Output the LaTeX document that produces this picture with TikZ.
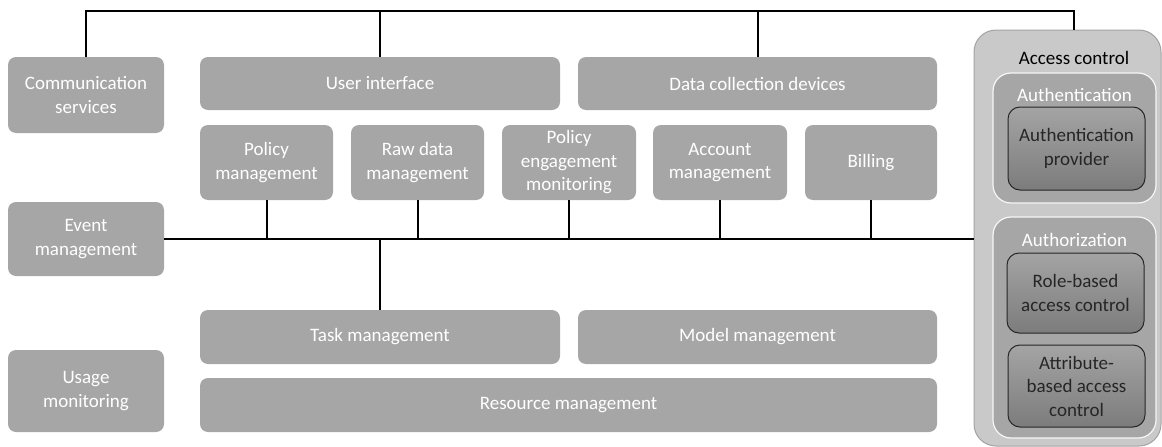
\documentclass[tikz,border=0pt]{standalone}
\usepackage{fontspec}
\setmainfont{Carlito}
\usepackage{tikz}
\usetikzlibrary{positioning,calc}
\definecolor{boxgray}{HTML}{A6A6A6}
\definecolor{panelgray}{HTML}{C9C9C9}
\definecolor{paneledge}{HTML}{A3A3A3}
\definecolor{darktop}{HTML}{A4A4A4}
\definecolor{darkbot}{HTML}{7C7C7C}
\definecolor{darktext}{HTML}{262626}
\tikzset{
  box/.style={fill=boxgray,rounded corners=8pt,text=white,align=center,inner sep=0pt},
  panel/.style={fill=panelgray,draw=paneledge,line width=1pt,rounded corners=22pt,inner sep=0pt},
  group/.style={fill=boxgray,draw=white!90!boxgray,line width=1.2pt,rounded corners=18pt,inner sep=0pt},
  darkbox/.style={top color=darktop,bottom color=darkbot,draw=black!85,line width=1pt,
    rounded corners=12pt,text=darktext,align=center,inner sep=0pt},
  wire/.style={line width=2pt,black}
}

\begin{document}
\begin{tikzpicture}[x=1pt,y=-1pt,font=\fontsize{19}{23.5}\selectfont]
\useasboundingbox (0,0) rectangle (1162,447);
% Left column
\node[box,minimum width=156pt,minimum height=76pt] (comm) at (86,95) {Communication\\services};
\node[box,minimum width=156pt,minimum height=74pt] (event) at (86,239) {Event\\management};
\node[box,minimum width=156pt,minimum height=82pt] (usage) at (86,391) {Usage\\monitoring};
% Top row
\node[box,minimum width=360pt,minimum height=53pt] (ui) at (380,83.5) {User interface};
\node[box,minimum width=359pt,minimum height=53pt] (dcd) at (757.5,83.5) {Data collection devices};
% Middle row of management boxes
\node[box,minimum width=133pt,minimum height=75pt] (polm) at (266.5,162.5) {Policy\\management};
\node[box,minimum width=133pt,minimum height=75pt] (rawm) at (417.5,162.5) {Raw data\\management};
\node[box,minimum width=134pt,minimum height=75pt] (peng) at (569,162.5) {Policy\\engagement\\monitoring};
\node[box,minimum width=134pt,minimum height=75pt] (acct) at (720,162.5) {Account\\management};
\node[box,minimum width=132pt,minimum height=75pt] (bill) at (871,162.5) {Billing};
% Bottom rows
\node[box,minimum width=360pt,minimum height=54pt] (task) at (380,337) {Task management};
\node[box,minimum width=359pt,minimum height=54pt] (model) at (757.5,337) {Model management};
\node[box,minimum width=737pt,minimum height=54pt] (res) at (568.5,405) {Resource management};
% Access control panel
\node[panel,minimum width=187pt,minimum height=416pt] (access) at (1067.5,238) {};
\node[text=black] (acclbl) at (1074,58) {Access control};
\node[group,minimum width=163pt,minimum height=130pt] (authn) at (1074.5,138) {};
\node[text=white] (authnlbl) at (1074.5,95) {Authentication};
\node[darkbox,minimum width=137pt,minimum height=83pt] (prov) at (1076.5,148.5) {Authentication\\provider};
\node[group,minimum width=163pt,minimum height=221pt] (authz) at (1074.5,327.5) {};
\node[text=white] (authzlbl) at (1074.5,240) {Authorization};
\node[darkbox,minimum width=137pt,minimum height=80pt] (rbac) at (1075.5,293) {Role-based\\access control};
\node[darkbox,minimum width=137pt,minimum height=82pt] (abac) at (1076.5,386) {Attribute-\\based access\\control};
% Top bus
\coordinate (topbus) at (1074,11);
\draw[wire] (comm.north) |- (topbus) -- (topbus |- access.north);
\draw[wire] (ui.north) -- (ui.north |- topbus);
\draw[wire] (dcd.north) -- (dcd.north |- topbus);
% Middle bus
\draw[wire] (event.east) -- (event.east -| access.west);
\foreach \n in {polm,rawm,peng,acct,bill}
  \draw[wire] (\n.south) -- (\n.south |- event.east);
\draw[wire] (task.north) -- (task.north |- event.east);
\end{tikzpicture}
\end{document}
